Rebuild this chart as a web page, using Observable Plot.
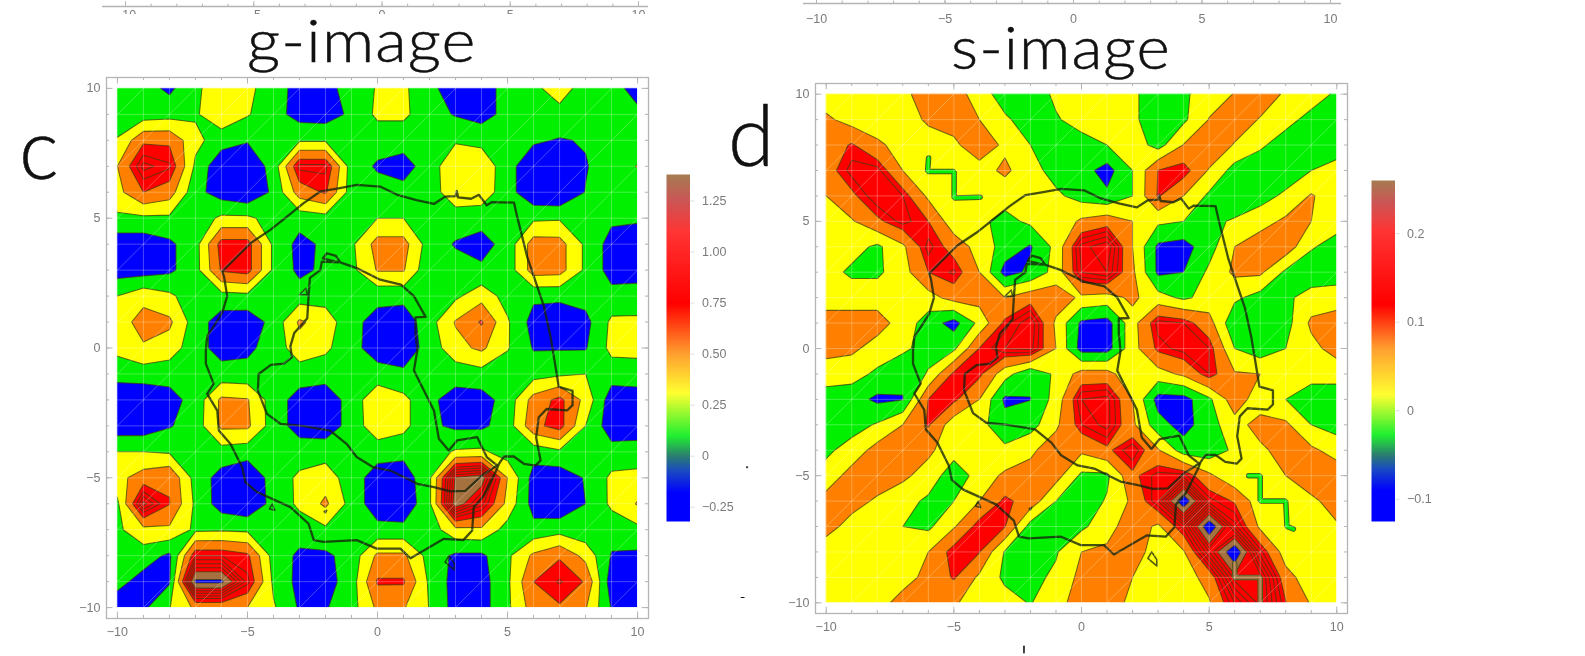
<!DOCTYPE html>
<html><head><meta charset="utf-8">
<script src="https://cdn.jsdelivr.net/npm/d3@7"></script>
<script src="https://cdn.jsdelivr.net/npm/@observablehq/plot@0.6"></script>
<style>
html,body{margin:0;padding:0;background:#fff}
#page{position:relative;width:1585px;height:656px;overflow:hidden;background:#fff;font-family:"Liberation Sans",sans-serif}
#page svg{position:absolute;background:transparent;filter:blur(.55px);overflow:hidden}
.t{position:absolute;color:#111;white-space:nowrap;font-family:"Lato","Liberation Sans",sans-serif;font-weight:300;-webkit-text-stroke:.5px #111;filter:blur(.4px);line-height:1;transform-origin:left top}
.clipbox{position:absolute;left:0;top:0;width:1585px;overflow:hidden}
</style></head><body><div id="page"></div>
<script>
// g-image values (hundredths), rows y = 10 ... -10, columns x = -10 ... 10
const gRows = [
[10,10,-5,20,40,32,10,-8,-8,10,27,30,5,-10,-10,8,20,35,15,5,-5],
[10,12,15,22,42,27,10,-10,-12,5,30,30,10,-2,-10,8,12,18,12,8,3],
[27,70,70,32,12,2,8,22,22,15,10,10,15,22,18,8,4,-2,2,8,10],
[50,105,93,20,-20,-20,10,95,95,12,-3,-10,12,45,42,10,-20,-30,-2,15,26],
[42,75,62,8,-12,-22,5,62,78,12,10,8,12,42,40,10,-20,-25,1,10,12],
[20,20,20,10,30,30,15,10,15,10,25,25,15,12,10,10,20,22,12,5,3],
[-15,-15,-5,15,85,85,20,-8,5,20,60,60,12,-2,-10,10,62,60,20,-10,-12],
[-12,-12,-5,15,78,85,20,-6,5,18,52,52,5,10,5,10,62,60,20,-10,-10],
[25,42,30,10,15,18,12,12,15,10,8,8,10,20,40,15,5,5,10,8,10],
[38,60,55,12,-12,-15,8,54,38,8,-10,-15,15,52,78,28,-10,-15,-8,30,30],
[32,47,38,10,-10,-5,10,40,30,8,-12,-15,10,42,55,27,-2,-2,-2,32,35],
[10,12,10,10,10,8,10,12,10,10,10,5,5,10,15,10,15,20,25,12,10],
[-20,-20,-10,10,55,52,12,-10,-15,10,45,32,5,-10,-10,10,60,82,42,-15,-10],
[-15,-15,-2,12,55,55,12,-10,-15,10,42,32,5,-5,-5,12,68,85,25,-15,-15],
[25,25,22,10,15,10,8,12,15,12,10,8,12,28,30,12,10,20,10,10,12],
[42,62,72,15,-10,-20,10,30,38,12,-12,-15,20,132,142,50,-10,-15,2,30,32],
[20,115,76,20,-12,-20,8,30,55,15,-15,-20,20,142,105,42,-10,-20,0,30,52],
[20,42,45,20,22,20,12,12,20,12,8,8,12,42,45,15,8,15,8,10,18],
[12,12,-5,90,90,80,15,-5,-5,10,55,55,15,-5,-5,20,55,72,42,-2,-5],
[8,-10,-3,155,155,95,20,-8,-10,12,78,78,20,-10,-10,20,75,92,73,-15,-10],
[-15,-5,24,55,55,50,28,-3,-2,15,55,52,24,-10,-10,20,62,72,52,-2,-10]
];
// s-image values (hundredths)
const sRows = [
[2,2,2,4,7,7,3,-3,-3,1,2,2,1,-3,-1,3,5.2,9,4,3,-1],
[6,3,2,2,6,7,5,1,-3,-.5,2,2,1,-3,-1,5.2,9,4.5,2,-2,-3],
[7,10.5,6,3,2,4,8,4,0,-3,-2,0,3,-2,5.2,9.5,4.5,1,-3,-3,-4],
[8,13,13,5,1.5,1.5,3,6,2,-2,-3,-7,0,10.1,12,4.5,-2,-4,-3,0,3],
[5,9,14,12,4,1.5,1.5,2,3,1,-2,-4,0,10.5,5,-1,-3,-2,1,5.5,2],
[2,4.5,9,13,10,2,1,-1.5,1,1,6,8,5,1,0,-1,.5,3,6,5,2],
[2,2,-1,4,13,8,3,-2,-5.5,1.5,15,18,5,-6,-7,-2,5,8,8,.5,-2],
[2,-1,-1,3,10,12.5,5,-7,-4,2,14,16,6,-6,-5,1,6,6,-1,-3,-3],
[3,3,3,3,3,7,7,5,8,8,4,3,6,2,-1,2,1,-2,-1,2,3],
[7,7,7,3,-2.5,-7,1.5,11,16,4,-6,-7,3,13,12,7,-4,-3,-2,6,7],
[7,6,3,1,-2,-1,10.2,14,15,5,-7,-7,3,11,13,12,0,-3,0,3.5,7],
[2,2,-1,-4,.5,11,11,2,-4,1,7,7,1,3,6,12,5.5,5,3,2,2],
[-2,-3,-6,-5.2,10.1,11,5,-6,-5.1,2,14,15,5,-7,-7,-1,8,2,0,-3,-3],
[-2,-2,.5,5,10.5,2,1.5,-3,-2,4,12,15,6,-3,-7,-2,3,7,6,0,-2],
[-1,2,7,9,6,2,1,1,4,8,6,9,14,5.5,-2.5,-3,1,4,7,6,3],
[2,7,8,6,3,-3,2,6,7,7,-1,-1,9,13,13,6,1,2,5,8,8],
[7,7,4.2,2,-1,0,5,11,8,0,-3,.5,6,14,30,13,9.5,2,2,4,7],
[7,3,2,0,-1,4.5,12,10.2,-2,-3,-1,3,8,4,13,30,15,4,2,2,4.5],
[2,2,2,3,5,12,10.2,-.5,-2,-.5,5,6,7,3,4.5,18,30,13,2.5,2,2],
[2,2,2,3,6.5,10.5,4,-1,-1.5,1,6.5,7,5,3,2.5,7,21,21,7,2,2],
[2,2,3,7,8,5.5,3,2,-.3,3.5,7,7,4,2,2,4.5,14,21,10.2,4.5,3]
];
const BROWN = "#a5713f";
const gLevels = [-1000,0,25,50,75,90,100,110,120,130,150];
const gColors = ["#0000ff","#00f000","#ffff00","#ff8000","#ff0000","#ff0000","#ff0000","#ff0000","#ff0000",BROWN,"#0000ff"];
const sLevels = [-1000,-5,0,5,10,12,14,16,18,20,22,26];
const sColors = ["#0000ff","#00f000","#ffff00","#ff8000","#ff0000","#ff0000","#ff0000","#ff0000","#ff0000","#ff0000",BROWN,"#0000ff"];
const sZigzags = [
  {fill:"#00f000",path:[[-5.99,7.49],[-6.03,6.96],[-4.99,6.96],[-4.99,5.92],[-3.97,5.95]]},
  {fill:"#00f000",path:[[6.55,-5],[7,-5],[7,-6],[8,-6],[8.05,-7],[8.3,-7.1]]},
  {fill:BROWN,path:[[6,-8.45],[6,-9],[7,-9],[7,-10.1]]}
];
const outerCoast = [[-5.97,2.95],[-4.88,4.04],[-4.12,4.55],[-3.48,5.06],[-2.84,5.58],[-2.2,6.03],[-1.5,6.15],[-.8,6.28],[.1,6.22],[.76,5.9],[1.5,5.7],[2.17,5.55],[2.6,5.83],[3,5.85],[3.05,6.05],[3.1,5.8],[3.6,5.75],[3.9,5.9],[4.2,5.5],[4.4,5.62],[5.25,5.6],[5.37,5.06],[5.76,3.5],[6.4,1.6],[6.65,.45],[6.8,-.45],[6.97,-1.5],[7.5,-1.65],[7.5,-2.2],[7.3,-2.4],[6.5,-2.35],[6.2,-2.67],[6.1,-3.45],[6.27,-4.33],[6.08,-4.53],[5.63,-4.46],[5.24,-4.18],[4.86,-4.18],[4.67,-4.46],[4.54,-4.78],[4.09,-5.68],[3.7,-6.13],[3.64,-7.03],[3.3,-7.4],[2.55,-7.35],[1.78,-7.8],[1.27,-8.1],[.88,-7.73],[-.03,-7.73],[-.8,-7.4],[-2.07,-7.47],[-2.45,-7.4],[-2.65,-6.77],[-3.35,-6.13],[-4.63,-5.55],[-5.08,-5.17],[-5.2,-4.6],[-5.65,-3.7],[-6.1,-3.18],[-6.16,-2.41],[-6.55,-1.77],[-6.3,-1.38],[-6.6,-.6],[-6.6,-.1],[-6.55,.45],[-5.97,1.35],[-5.78,2],[-5.9,2.75],[-5.97,2.95]];
const innerCoast = [[4.2,-4.2],[3.83,-3.43],[3.06,-3.56],[2.74,-3.95],[2.36,-3.5],[2.17,-2.41],[1.4,-.87],[1.53,-.1],[1.46,.6],[1.46,1.18],[1.85,1.2],[1.4,2],[.9,2.44],[.1,2.63],[-.8,3.08],[-1.43,3.3],[-1.6,3.55],[-1.95,3.65],[-2.1,3.45],[-1.5,3.3],[-2.14,3.33],[-2.2,3],[-2.6,2.7],[-2.65,2],[-2.7,1.15],[-3.2,.58],[-3.35,.06],[-3.29,-.36],[-3.6,-.6],[-4.1,-.65],[-4.57,-1],[-4.6,-1.64],[-4.25,-2.54],[-3.73,-2.92],[-2.97,-2.99],[-1.82,-3.18],[-1.18,-3.7],[-.8,-4.2],[-.15,-4.6],[.5,-4.72],[1.53,-5.23],[2.17,-5.36],[2.8,-5.52],[3.38,-5.5],[4.03,-4.9],[4.6,-4.52],[4.2,-4.2]];
const coastIslands = [[[2.75,-8.0],[2.6,-8.25],[2.95,-8.55],[2.95,-8.3],[2.75,-8.0]],[[-3.0,2.05],[-2.7,2.05],[-2.75,2.3],[-3.0,2.05]],[[-4.15,-6.2],[-4.05,-6.0],[-3.95,-6.25],[-4.15,-6.2]],[[-2.05,-6.3],[-1.95,-6.25],[-2,-6.35],[-2.05,-6.3]]];
const unitTicks = d3.range(-10,11);
const majorTicks = [-10,-5,0,5,10];
const diagonals = d3.range(-19,20,2);
const gLegendStops = [-.32,-.18,-.07,0,.1,.31,.5,.75,1.1,1.25,1.38];
const sLegendStops = [-.125,-.09,-.065,-.05,-.027,.018,.07,.12,.204,.235,.26];
const legendColors = ["#0000ff","#0000ff","#1a4cc0","#2b7d70","#20f030","#ffff30","#ffa030","#ff0000","#ff3535","#cc5555","#a67c52"];
const gLegendTicks = [-.25,0,.25,.5,.75,1,1.25];
const gLegendLabels = ["−0.25","0","0.25","0.50","0.75","1.00","1.25"];
const sLegendTicks = [-.1,0,.1,.2];
const sLegendLabels = ["−0.1","0","0.1","0.2"];

const page = document.getElementById("page");
const GRAY = "#b4b4b4", TXT = "#7a7a7a", PAD = .42;
const lo = -10-PAD, hi = 10+PAD;
const xy = {x:d=>d[0],y:d=>d[1]};

function place(svg,left,top){svg.style.left=left+"px";svg.style.top=top+"px";page.appendChild(svg);return svg;}

function panel(rows,levels,colors,zigzags,f){
  const ml=38, mt=4, mr=4, mb=30;
  const values = rows.flat();
  const cover = [[-11,-10,-11,11],[10,11,-11,11],[-11,11,-11,-10],[-11,11,10,11]];
  const marks = [
    Plot.contour(values,{width:21,height:21,x1:-10.5,x2:10.5,y1:10.5,y2:-10.5,value:Plot.identity,thresholds:levels,fill:"value",stroke:"#3c3a14",strokeOpacity:.72,strokeWidth:1.05,clip:true}),
    ...zigzags.flatMap(z=>[
      Plot.line(z.path,{...xy,stroke:"#4a5a20",strokeWidth:5.5,strokeLinejoin:"miter"}),
      Plot.line(z.path,{...xy,stroke:z.fill,strokeWidth:3.6,strokeLinejoin:"miter"})
    ]),
    Plot.line(outerCoast,{...xy,stroke:"#16240c",strokeOpacity:.8,strokeWidth:2.3}),
    Plot.line(innerCoast,{...xy,stroke:"#16240c",strokeOpacity:.8,strokeWidth:2.3}),
    ...coastIslands.map(r=>Plot.line(r,{...xy,stroke:"#16240c",strokeOpacity:.75,strokeWidth:1.6})),
    Plot.ruleX(unitTicks,{y1:-10,y2:10,stroke:"#fff",strokeOpacity:.28,strokeWidth:1}),
    Plot.ruleY(unitTicks,{x1:-10,x2:10,stroke:"#fff",strokeOpacity:.28,strokeWidth:1}),
    Plot.link(diagonals,{x1:c=>Math.max(-10,-10-c),y1:c=>Math.max(-10,-10-c)+c,x2:c=>Math.min(10,10-c),y2:c=>Math.min(10,10-c)+c,stroke:"#fff",strokeOpacity:.28,strokeWidth:1}),
    Plot.rect(cover,{x1:d=>d[0],x2:d=>d[1],y1:d=>d[2],y2:d=>d[3],fill:"#fff",clip:true}),
    Plot.ruleX(unitTicks,{y1:lo,y2:lo+.12,stroke:GRAY}),
    Plot.ruleX(unitTicks,{y1:hi,y2:hi-.12,stroke:GRAY}),
    Plot.ruleY(unitTicks,{x1:lo,x2:lo+.12,stroke:GRAY}),
    Plot.ruleY(unitTicks,{x1:hi,x2:hi-.12,stroke:GRAY}),
    Plot.ruleX(majorTicks,{y1:lo,y2:lo+.25,stroke:GRAY}),
    Plot.ruleX(majorTicks,{y1:hi,y2:hi-.25,stroke:GRAY}),
    Plot.ruleY(majorTicks,{x1:lo,x2:lo+.25,stroke:GRAY}),
    Plot.ruleY(majorTicks,{x1:hi,x2:hi-.25,stroke:GRAY}),
    Plot.frame({stroke:GRAY,strokeWidth:1.3}),
    Plot.axisX({anchor:"bottom",ticks:majorTicks,tickSize:0,tickPadding:9,label:null,color:TXT,fontSize:12.5,tickFormat:d=>String(d).replace("-","−")}),
    Plot.axisY({anchor:"left",ticks:majorTicks,tickSize:0,tickPadding:6,label:null,color:TXT,fontSize:12.5,tickFormat:d=>String(d).replace("-","−")})
  ];
  const svg = Plot.plot({width:f.w+ml+mr,height:f.h+mt+mb,marginLeft:ml,marginRight:mr,marginTop:mt,marginBottom:mb,
    style:{background:"transparent",fontFamily:"Liberation Sans"},
    x:{domain:[lo,hi]},y:{domain:[lo,hi]},
    color:{type:"threshold",domain:levels.slice(1),range:colors},marks});
  return place(svg,f.x-ml,f.y-mt);
}

function legend(stops,ticks,labels,f){
  const n=240, lo=stops[0], hi=stops[stops.length-1];
  const steps=d3.range(n).map(i=>hi-(i+.5)*(hi-lo)/n);
  const svg=Plot.plot({width:f.w+70,height:f.h+16,marginLeft:0,marginRight:70,marginTop:8,marginBottom:8,
    style:{background:"transparent",fontFamily:"Liberation Sans"},
    x:{domain:[0,1],axis:null},y:{domain:[lo,hi]},
    color:{type:"linear",domain:stops,range:legendColors,interpolate:"rgb"},
    marks:[
      Plot.raster(steps,{width:1,height:n,x1:0,x2:1,y1:hi,y2:lo,fill:Plot.identity}),
      Plot.axisY({anchor:"right",ticks:ticks,tickSize:4,tickPadding:8,stroke:"#ddd",label:null,color:TXT,fontSize:12.5,tickFormat:d=>labels[ticks.indexOf(d)]})
    ]});
  return place(svg,f.x,f.y-8);
}

function strip(f,boxH){
  const box=document.createElement("div");box.className="clipbox";box.style.height=boxH+"px";page.appendChild(box);
  const h=60, mb=30, top=f.bottom-(h-mb);
  const dom=[-10-(f.zero10L-f.left)/f.u, 10+(f.right-f.zero10R)/f.u];
  const svg=Plot.plot({width:f.right-f.left,height:h,marginLeft:0,marginRight:0,marginTop:0,marginBottom:mb,
    style:{background:"transparent",fontFamily:"Liberation Sans"},x:{domain:dom},y:{domain:[0,1]},
    marks:[
      Plot.ruleY([0],{stroke:GRAY,strokeWidth:1.3}),
      Plot.ruleX(unitTicks,{y1:0,y2:.08,stroke:GRAY}),
      Plot.ruleX(majorTicks,{y1:0,y2:.16,stroke:GRAY}),
      Plot.axisX({anchor:"bottom",ticks:majorTicks,tickSize:0,tickPadding:f.pad,label:null,color:TXT,fontSize:12.5,tickFormat:d=>String(d).replace("-","−")})
    ]});
  svg.style.left=f.left+"px";svg.style.top=top+"px";box.appendChild(svg);
}

function label(text,x,y,size,extra){
  const d=document.createElement("div");d.className="t";d.textContent=text;
  d.style.left=x+"px";d.style.top=y+"px";d.style.fontSize=size+"px";
  if(extra) Object.assign(d.style,extra);
  page.appendChild(d);
}

strip({left:102,right:648,bottom:6,zero10L:125,zero10R:638,u:25.65,pad:4},14);
strip({left:803,right:1341,bottom:3,zero10L:816,zero10R:1330,u:25.7,pad:11},26);

panel(gRows,gLevels,gColors,[],{x:106,y:77,w:542,h:541});
panel(sRows,sLevels,sColors,sZigzags,{x:815,y:83,w:532,h:530});
legend(gLegendStops,gLegendTicks,gLegendLabels,{x:666,y:174,w:23.5,h:347});
legend(sLegendStops,sLegendTicks,sLegendLabels,{x:1371,y:180,w:23.5,h:341});

label("g-image",247,10,59,{letterSpacing:"1px",transform:"scaleX(1.1)"});
label("s-image",951,17,59,{letterSpacing:"1px",transform:"scaleX(1.08)"});
label("c",19,105,84);
label("d",728,92,84);
label("'",1021,640,30);
label(".",745,452,18,{color:"#555"});
label("-",740,590,14,{color:"#999"});
</script></body></html>
